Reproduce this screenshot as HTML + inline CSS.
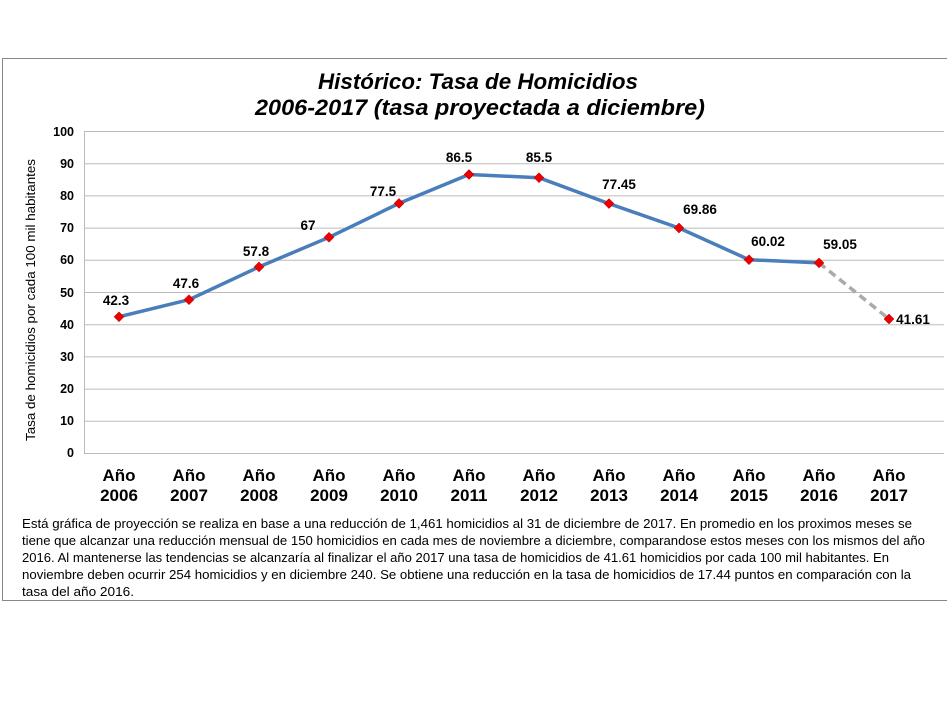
<!DOCTYPE html>
<html><head><meta charset="utf-8"><style>body{margin:0;background:#fff}svg{display:block}</style></head><body>
<svg width="947" height="719" xmlns="http://www.w3.org/2000/svg" font-family="'Liberation Sans',sans-serif">
<rect x="2.5" y="58.5" width="950" height="542" fill="#fff" stroke="#888"/>
<text x="478" y="89" text-anchor="middle" font-size="22" font-weight="bold" font-style="italic" textLength="320" lengthAdjust="spacingAndGlyphs">Histórico: Tasa de Homicidios</text>
<text x="480" y="115" text-anchor="middle" font-size="22" font-weight="bold" font-style="italic" textLength="450" lengthAdjust="spacingAndGlyphs">2006-2017 (tasa proyectada a diciembre)</text>
<g stroke="#bbb" stroke-width="1">
<line x1="84" x2="944" y1="453.5" y2="453.5"/>
<line x1="84" x2="944" y1="421.3" y2="421.3"/>
<line x1="84" x2="944" y1="389.1" y2="389.1"/>
<line x1="84" x2="944" y1="356.9" y2="356.9"/>
<line x1="84" x2="944" y1="324.7" y2="324.7"/>
<line x1="84" x2="944" y1="292.5" y2="292.5"/>
<line x1="84" x2="944" y1="260.3" y2="260.3"/>
<line x1="84" x2="944" y1="228.1" y2="228.1"/>
<line x1="84" x2="944" y1="195.9" y2="195.9"/>
<line x1="84" x2="944" y1="163.7" y2="163.7"/>
<line x1="84" x2="944" y1="131.5" y2="131.5"/>
<line x1="84.5" x2="84.5" y1="131" y2="453"/>
</g>
<g font-size="12.5" font-weight="bold" text-anchor="end">
<text x="74" y="457">0</text><text x="74" y="425">10</text><text x="74" y="393">20</text><text x="74" y="361">30</text><text x="74" y="329">40</text><text x="74" y="297">50</text><text x="74" y="264">60</text><text x="74" y="232">70</text><text x="74" y="200">80</text><text x="74" y="168">90</text><text x="74" y="136">100</text>
</g>
<text transform="translate(35,300) rotate(-90)" text-anchor="middle" font-size="12.5" textLength="282" lengthAdjust="spacingAndGlyphs">Tasa de homicidios por cada 100 mil habitantes</text>
<polyline fill="none" stroke="#4a7ebb" stroke-width="3.5" stroke-linejoin="round" points="119,316.8 189,299.7 259,266.9 329,237.3 399,203.4 469,174.5 539,177.7 609,203.6 679,228.0 749,259.7 819,262.9"/>
<line x1="819" y1="262.9" x2="889" y2="319.0" stroke="#aaa" stroke-width="3.5" stroke-dasharray="8,5"/>
<g fill="#e00" stroke="#a00" stroke-width="0.5">
<path d="M119 311.8l5 5-5 5-5-5z"/><path d="M189 294.7l5 5-5 5-5-5z"/><path d="M259 261.9l5 5-5 5-5-5z"/><path d="M329 232.3l5 5-5 5-5-5z"/><path d="M399 198.4l5 5-5 5-5-5z"/><path d="M469 169.5l5 5-5 5-5-5z"/><path d="M539 172.7l5 5-5 5-5-5z"/><path d="M609 198.6l5 5-5 5-5-5z"/><path d="M679 223.0l5 5-5 5-5-5z"/><path d="M749 254.7l5 5-5 5-5-5z"/><path d="M819 257.9l5 5-5 5-5-5z"/><path d="M889 314.0l5 5-5 5-5-5z"/>
</g>
<g font-size="13.5" font-weight="bold" text-anchor="middle">
<text x="116" y="305">42.3</text><text x="186" y="288">47.6</text><text x="256" y="256">57.8</text><text x="308" y="230">67</text><text x="383" y="196">77.5</text><text x="459" y="162">86.5</text><text x="539" y="162">85.5</text><text x="619" y="189">77.45</text><text x="700" y="214">69.86</text><text x="768" y="246">60.02</text><text x="840" y="249">59.05</text><text x="913" y="324">41.61</text>
</g>
<g font-size="17" font-weight="bold" text-anchor="middle">
<text x="119" y="481">Año</text><text x="189" y="481">Año</text><text x="259" y="481">Año</text><text x="329" y="481">Año</text><text x="399" y="481">Año</text><text x="469" y="481">Año</text><text x="539" y="481">Año</text><text x="609" y="481">Año</text><text x="679" y="481">Año</text><text x="749" y="481">Año</text><text x="819" y="481">Año</text><text x="889" y="481">Año</text>
<text x="119" y="501">2006</text><text x="189" y="501">2007</text><text x="259" y="501">2008</text><text x="329" y="501">2009</text><text x="399" y="501">2010</text><text x="469" y="501">2011</text><text x="539" y="501">2012</text><text x="609" y="501">2013</text><text x="679" y="501">2014</text><text x="749" y="501">2015</text><text x="819" y="501">2016</text><text x="889" y="501">2017</text>
</g>
<g font-size="12.5">
<text x="22" y="528" textLength="890" lengthAdjust="spacingAndGlyphs">Está gráfica de proyección se realiza en base a una reducción de  1,461 homicidios al 31 de diciembre de 2017. En promedio en los proximos meses se</text>
<text x="22" y="545" textLength="903" lengthAdjust="spacingAndGlyphs">tiene que alcanzar una reducción mensual de 150 homicidios en cada mes de noviembre a diciembre, comparandose estos meses con los mismos del año</text>
<text x="22" y="562" textLength="867" lengthAdjust="spacingAndGlyphs">2016. Al mantenerse las tendencias  se alcanzaría al finalizar el año 2017 una tasa de homicidios de 41.61 homicidios  por cada 100 mil habitantes. En</text>
<text x="22" y="579" textLength="889" lengthAdjust="spacingAndGlyphs">noviembre deben ocurrir  254  homicidios y en diciembre 240. Se obtiene una reducción en la tasa de homicidios de 17.44 puntos en comparación con la</text>
<text x="22" y="596" textLength="112" lengthAdjust="spacingAndGlyphs">tasa del año 2016.</text>
</g>
</svg>
</body></html>
